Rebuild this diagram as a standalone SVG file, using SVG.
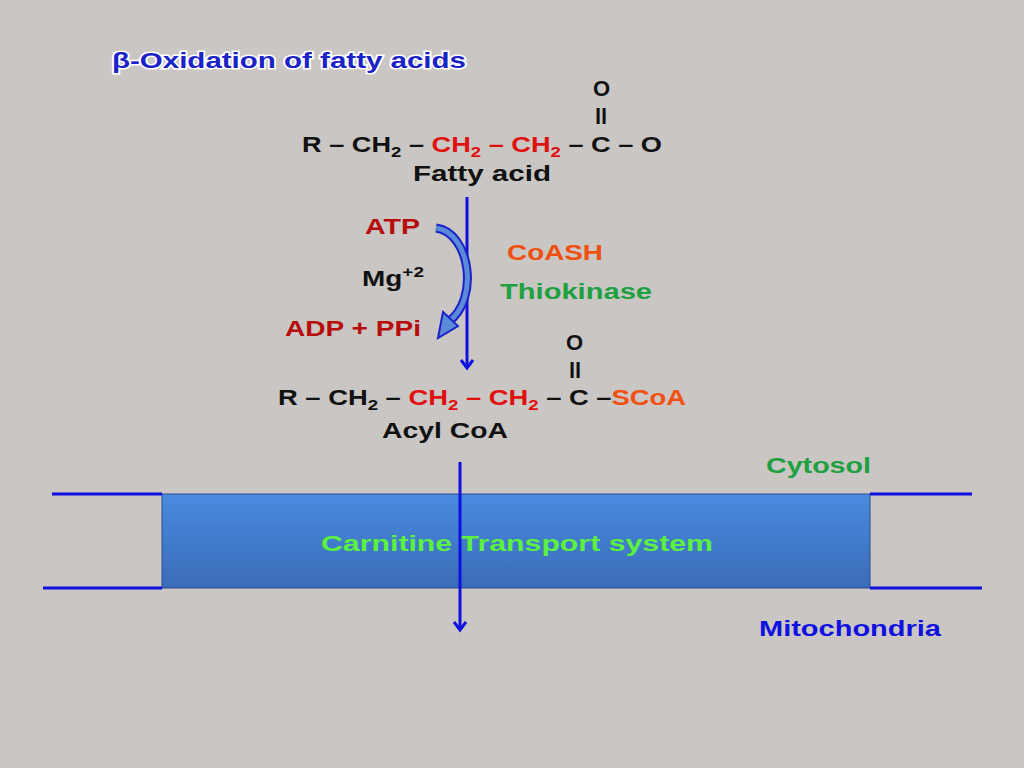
<svg xmlns="http://www.w3.org/2000/svg" width="1024" height="768" viewBox="0 0 1024 768">
<defs>
<style>
text{font-family:"Liberation Sans",Arial,sans-serif;font-weight:bold;font-size:22px}
.k{fill:#111}.r{fill:#e01010}.dr{fill:#b80c0c}.o{fill:#f05010}.g{fill:#20a040}.lg{fill:#5cf040}.b{fill:#1010e0}
.ln{stroke:#1010e0;stroke-width:3;fill:none}
</style>
<linearGradient id="bx" x1="0" y1="0" x2="0" y2="1"><stop offset="0" stop-color="#4a8ae0"/><stop offset="1" stop-color="#3a6cb8"/></linearGradient>
<marker id="ah" markerWidth="14" markerHeight="14" refX="11" refY="7" orient="auto" markerUnits="userSpaceOnUse" viewBox="0 0 14 14"><path d="M3,1 L11,7 L3,13" fill="none" stroke="#1010e0" stroke-width="3"/></marker>
</defs>
<rect width="1024" height="768" fill="#c9c6c4"/>
<text x="112" y="68" fill="#1a22c8" stroke="#fff" stroke-width="3" paint-order="stroke" textLength="354" lengthAdjust="spacingAndGlyphs">β-Oxidation of fatty acids</text>
<g id="fattyacid">
<text x="593" y="96" class="k">O</text>
<text x="595" y="124" class="k">ll</text>
<text x="302" y="152" class="k" textLength="360" lengthAdjust="spacingAndGlyphs">R – CH<tspan font-size="15" dy="5">2</tspan><tspan dy="-5"> – </tspan><tspan class="r">CH<tspan font-size="15" dy="5">2</tspan><tspan dy="-5"> – CH</tspan><tspan font-size="15" dy="5">2</tspan></tspan><tspan dy="-5"> – C – O</tspan></text>
<text x="413" y="181" class="k" textLength="138" lengthAdjust="spacingAndGlyphs">Fatty acid</text>
</g>
<g id="cofactors">
<text x="365" y="234" class="dr" textLength="55" lengthAdjust="spacingAndGlyphs">ATP</text>
<text x="362" y="286" class="k" textLength="62" lengthAdjust="spacingAndGlyphs">Mg<tspan font-size="15" dy="-9">+2</tspan></text>
<text x="285" y="336" class="dr" textLength="136" lengthAdjust="spacingAndGlyphs">ADP + PPi</text>
<text x="507" y="260" class="o" textLength="96" lengthAdjust="spacingAndGlyphs">CoASH</text>
<text x="500" y="299" class="g" textLength="152" lengthAdjust="spacingAndGlyphs">Thiokinase</text>
</g>
<g id="acylcoa">
<text x="566" y="350" class="k">O</text>
<text x="569" y="378" class="k">ll</text>
<text x="278" y="405" class="k" textLength="408" lengthAdjust="spacingAndGlyphs">R – CH<tspan font-size="15" dy="5">2</tspan><tspan dy="-5"> – </tspan><tspan class="r">CH<tspan font-size="15" dy="5">2</tspan><tspan dy="-5"> – CH</tspan><tspan font-size="15" dy="5">2</tspan></tspan><tspan dy="-5"> – C –</tspan><tspan class="o">SCoA</tspan></text>
<text x="382" y="438" class="k" textLength="126" lengthAdjust="spacingAndGlyphs">Acyl CoA</text>
</g>
<g id="transport">
<rect x="162" y="494" width="708" height="94" fill="url(#bx)" stroke="#2a4a90" stroke-width="1"/>
<text x="321" y="551" class="lg" textLength="392" lengthAdjust="spacingAndGlyphs">Carnitine  Transport system</text>
</g>
<text x="766" y="473" class="g" textLength="105" lengthAdjust="spacingAndGlyphs">Cytosol</text>
<text x="759" y="636" class="b" textLength="182" lengthAdjust="spacingAndGlyphs">Mitochondria</text>
<g id="connectors">
<path class="ln" d="M52,494 H162 M870,494 H972 M43,588 H162 M870,588 H982"/>
<line class="ln" x1="467" y1="197" x2="467" y2="368" stroke-width="2.5" marker-end="url(#ah)"/>
<line class="ln" x1="460" y1="462" x2="460" y2="630" marker-end="url(#ah)"/>
<path d="M436,228 C470,232 480,300 448,322" fill="none" stroke="#1a22c8" stroke-width="9"/>
<path d="M436,228 C470,232 480,300 448,322" fill="none" stroke="#5a8ad8" stroke-width="5"/>
<path d="M438,338 L443,312 L458,326 Z" fill="#5a8ad8" stroke="#1a22c8" stroke-width="2"/>
</g>
</svg>
